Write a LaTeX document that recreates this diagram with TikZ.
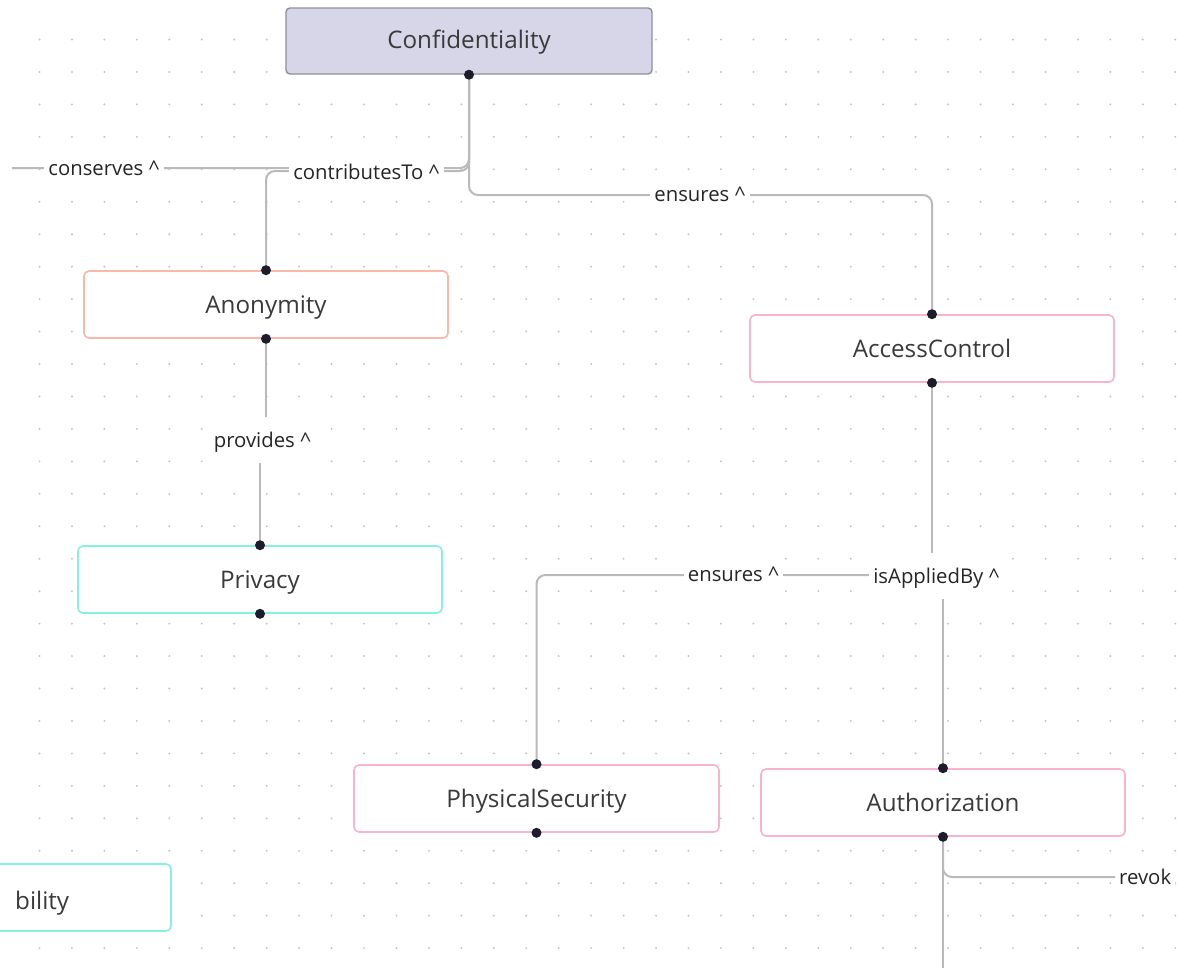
\documentclass[tikz,border=0pt]{standalone}
\usepackage{fontspec}
\setmainfont{Open Sans}
\definecolor{gridc}{HTML}{C6C6C6}
\definecolor{linec}{HTML}{BABABA}
\definecolor{pinc}{HTML}{1C1C2C}
\definecolor{txtc}{HTML}{3A3A3A}
\definecolor{lblc}{HTML}{252525}
\definecolor{conffill}{HTML}{D7D6E8}
\definecolor{confdraw}{HTML}{8F8E9C}
\definecolor{salmon}{HTML}{FBB8A8}
\definecolor{pinkc}{HTML}{FAB3CA}
\definecolor{turq}{HTML}{84F2DD}
\begin{document}
\begin{tikzpicture}[x=1pt,y=-1pt,
  box/.style={draw, fill=white, rounded corners=5pt, line width=1.6pt,
    minimum width=364pt, minimum height=67pt, inner sep=0pt,
    text height=21.5pt, text depth=3.4pt,
    font=\fontsize{24.2}{28}\selectfont, text=txtc},
  conn/.style={draw=linec, line width=2pt, rounded corners=9pt},
  lbl/.style={fill=white, inner xsep=4pt, inner ysep=0pt, minimum height=46pt,
    text height=14.5pt, text depth=0.5pt,
    font=\fontsize{20.3}{24}\selectfont, text=lblc},
  pin/.style={fill=pinc}]
\useasboundingbox (0,0) rectangle (1177,967);
\clip (0,0) rectangle (1177,967);
\fill[white] (0,0) rectangle (1177,967);

% dotted canvas grid
\foreach \i in {0,...,35}
  \foreach \j in {0,...,28}
    \fill[gridc] ({39.5+32.45*\i},{39.5+32.45*\j}) circle (1.1pt);

% concept boxes
\node[box, fill=conffill, draw=confdraw, line width=1.4pt, rounded corners=4pt,
      minimum width=366pt, minimum height=66pt, text height=19pt]
      (conf) at (469,41) {Confidentiality};
\node[box, draw=salmon] (anon) at (266,304.5) {Anonymity};
\node[box, draw=turq]   (priv) at (260,579.5) {Privacy};
\node[box, draw=pinkc]  (ac)   at (932,348.5) {AccessControl};
\node[box, draw=pinkc, minimum width=365pt] (ps) at (536.5,798.5) {PhysicalSecurity};
\node[box, draw=pinkc]  (auth) at (943,802.5) {Authorization};
\node[box, draw=turq]   (avail) at (-11,897.5) {};
\node[font=\fontsize{24.2}{28}\selectfont, text=txtc, anchor=base west, inner sep=0pt]
      (availtxt) at (15,909) {bility};

% free ends of connectors leaving the canvas
\coordinate (consend) at (12,168);
\coordinate (authend) at (943,985);

% connectors
\draw[conn] (conf.south) |- (consend);
\draw[conn] (conf.south) |- (266,171) -- (anon.north);
\draw[conn] (conf.south) |- (932,195) -- (ac.north);
\draw[conn, rounded corners=0pt] (anon.south) -- (266,440) -- (260,440) -- (priv.north);
\draw[conn, rounded corners=0pt] (ac.south) -- (932,576) -- (943,576) -- (auth.north);
\draw[conn] (ps.north) |- (932,575);
\draw[conn] (auth.south) -- (authend);

% connector labels
\node[lbl] (lcons)    at (104,168)   {conserves \textasciicircum};
\node[lbl] (lcontrib) at (366.5,172) {contributesTo \textasciicircum};
\node[lbl] (lens1)    at (700,194)   {ensures \textasciicircum};
\node[lbl] (lprov)    at (262.5,440) {provides \textasciicircum};
\node[lbl] (lens2)    at (733.5,574) {ensures \textasciicircum};
\node[lbl] (lapp)     at (936.5,576) {isAppliedBy \textasciicircum};
\node[lbl, anchor=west] (lrev) at (1115,877) {revok};
\draw[conn] (auth.south) |- (lrev.west);

% connection pins
\foreach \p in {conf.south, anon.north, anon.south, priv.north, priv.south,
                ac.north, ac.south, ps.north, ps.south, auth.north, auth.south}
  \fill[pin] (\p) circle (5pt);
\end{tikzpicture}
\end{document}
